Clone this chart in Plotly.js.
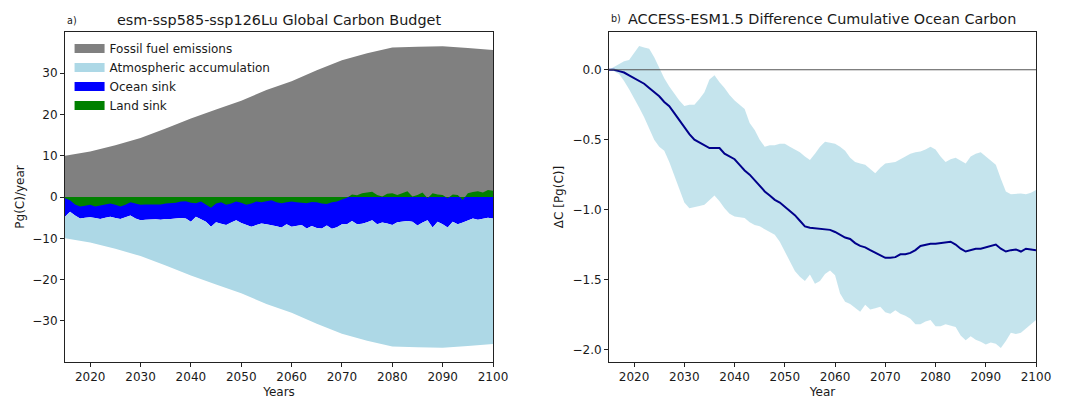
<!DOCTYPE html>
<html>
<head>
<meta charset="utf-8">
<script src="https://cdn.plot.ly/plotly-3.0.1.min.js"></script>
<style>
  html, body { margin: 0; padding: 0; background: #fff; }
  #chart { width: 1087px; height: 400px; }
</style>
</head>
<body>
<div id="chart"></div>
<script>
// ---- Panel a: global carbon budget (Pg C / year) ----
const years = [];
for (let y = 2015; y <= 2100; y++) years.push(y);

// Fossil fuel emissions, scenario values every 5 years
const fossilYears = [2015, 2020, 2025, 2030, 2035, 2040, 2045, 2050, 2055, 2060,
                     2065, 2070, 2075, 2080, 2085, 2090, 2095, 2100];
const fossil = [10.0, 11.0, 12.5, 14.3, 16.6, 19.0, 21.2, 23.3, 25.9, 28.0,
                30.7, 33.1, 34.8, 36.2, 36.4, 36.5, 36.1, 35.6];

// Net land flux (negative = uptake), 2015-2100
const landFlux = [
  -0.3, -0.8, -1.8, -2.3, -2.1, -1.9, -2.3, -2.1, -1.9, -1.6,
  -1.9, -2.3, -1.9, -1.3, -1.6, -1.9, -1.8, -1.8, -1.7, -1.8,
  -1.6, -1.5, -1.4, -1.1, -1.0, -1.4, -1.5, -1.1, -1.9, -2.6,
  -1.6, -1.3, -1.9, -1.6, -1.1, -1.4, -1.9, -1.6, -1.1, -1.3,
  -1.0, -0.8, -1.3, -1.5, -1.3, -1.1, -1.3, -1.4, -1.5, -1.2,
  -1.3, -1.6, -1.7, -1.3, -1.1, -0.6, -0.2, 0.6, 0.4, 0.9,
  1.1, 1.3, 0.5, 0.1, 0.8, 0.9, 0.5, 0.9, 1.4, 0.1,
  0.5, 1.1, -0.3, 0.9, 0.6, 0.5, -0.3, 0.6, 0.5, -0.7,
  0.9, 1.2, 1.4, 1.1, 1.7, 1.5
];

// Net ocean flux (negative = uptake), 2015-2100
const oceanFlux = [
  -4.5, -2.8, -2.7, -2.9, -2.9, -3.0, -2.8, -3.2, -3.1, -3.2,
  -3.2, -3.0, -3.0, -3.2, -3.6, -3.7, -3.7, -3.6, -3.7, -3.7,
  -3.7, -3.8, -3.8, -4.0, -4.2, -4.6, -3.3, -4.4, -4.1, -4.6,
  -4.5, -5.2, -4.9, -4.6, -4.5, -4.9, -4.8, -5.6, -5.7, -5.1,
  -5.6, -6.0, -5.8, -5.9, -5.3, -6.1, -5.7, -5.4, -6.1, -5.8,
  -6.2, -6.0, -5.2, -6.4, -6.2, -6.0, -6.4, -5.8, -6.6, -6.5,
  -6.1, -5.6, -6.6, -6.2, -6.4, -6.8, -6.1, -6.0, -5.8, -6.0,
  -6.9, -6.2, -5.3, -7.4, -6.0, -6.6, -7.1, -6.0, -6.6, -5.5,
  -5.6, -5.2, -5.5, -5.2, -5.0, -5.2
];

// ---- Panel b: ACCESS-ESM1.5 cumulative ocean carbon difference (Pg C) ----
const oceanMean = [
  0.00, 0.00, -0.01, -0.02, -0.04, -0.06, -0.08, -0.10, -0.13, -0.16,
  -0.19, -0.23, -0.26, -0.31, -0.36, -0.41, -0.46, -0.50, -0.52, -0.54,
  -0.56, -0.56, -0.56, -0.60, -0.62, -0.64, -0.68, -0.72, -0.75, -0.79,
  -0.83, -0.87, -0.90, -0.93, -0.95, -0.98, -1.01, -1.04, -1.08, -1.12,
  -1.13, -1.135, -1.14, -1.14, -1.145, -1.16, -1.18, -1.20, -1.21, -1.24,
  -1.26, -1.27, -1.29, -1.31, -1.33, -1.345, -1.345, -1.34, -1.32, -1.32,
  -1.31, -1.29, -1.26, -1.25, -1.245, -1.245, -1.24, -1.24, -1.23, -1.25,
  -1.28, -1.30, -1.29, -1.28, -1.28, -1.27, -1.26, -1.25, -1.28, -1.30,
  -1.29, -1.285, -1.30, -1.28, -1.285, -1.29
];
const oceanUpper = [
  0.00, 0.02, 0.04, 0.06, 0.07, 0.12, 0.17, 0.16, 0.15, 0.09,
  0.01, -0.06, -0.12, -0.17, -0.22, -0.26, -0.25, -0.25, -0.21, -0.16,
  -0.07, -0.04, -0.09, -0.13, -0.18, -0.22, -0.25, -0.28, -0.38, -0.43,
  -0.50, -0.55, -0.54, -0.54, -0.53, -0.53, -0.55, -0.57, -0.59, -0.62,
  -0.645, -0.60, -0.55, -0.515, -0.52, -0.53, -0.55, -0.58, -0.63, -0.66,
  -0.67, -0.68, -0.71, -0.74, -0.70, -0.67, -0.665, -0.66, -0.64, -0.62,
  -0.60, -0.59, -0.585, -0.57, -0.55, -0.57, -0.62, -0.66, -0.64, -0.63,
  -0.65, -0.67, -0.62, -0.60, -0.59, -0.62, -0.65, -0.68, -0.78, -0.87,
  -0.89, -0.885, -0.885, -0.89, -0.88, -0.86
];
const oceanLower = [
  0.00, -0.01, -0.03, -0.08, -0.14, -0.20, -0.27, -0.34, -0.42, -0.50,
  -0.55, -0.58, -0.66, -0.76, -0.86, -0.95, -0.99, -0.985, -0.975, -0.965,
  -0.93, -0.90, -0.94, -0.99, -1.03, -1.05, -1.055, -1.06, -1.09, -1.11,
  -1.12, -1.14, -1.16, -1.18, -1.23, -1.30, -1.38, -1.44, -1.48, -1.51,
  -1.465, -1.53, -1.51, -1.46, -1.435, -1.47, -1.60, -1.66, -1.675, -1.70,
  -1.73, -1.68, -1.715, -1.705, -1.695, -1.735, -1.745, -1.72, -1.745, -1.76,
  -1.78, -1.82, -1.82, -1.80, -1.79, -1.835, -1.835, -1.82, -1.83, -1.84,
  -1.90, -1.935, -1.905, -1.93, -1.945, -1.965, -1.95, -1.96, -1.99, -1.94,
  -1.88, -1.89, -1.88, -1.85, -1.82, -1.79
];

const xTicks = [2020, 2030, 2040, 2050, 2060, 2070, 2080, 2090, 2100];

// budget components and their colours, in legend order
const componentNames = ['Fossil fuel emissions', 'Atmospheric accumulation', 'Ocean sink', 'Land sink'];
const componentColors = ['rgb(128,128,128)', 'rgb(173,216,230)', 'rgb(0,0,255)', 'rgb(0,128,0)'];

// stacked boundaries for panel a
const zeroLine = years.map(() => 0);
const oceanEdge = years.map((y, i) => Math.min(landFlux[i], 0) + oceanFlux[i]);
const atmosEdge = fossil.map(v => -v);

const FONT = 'DejaVu Sans, Arial, sans-serif';
const INK = '#1a1a1a';

const areaStyle = { type: 'scatter', mode: 'lines', line: { width: 0 },
                    showlegend: false, hoverinfo: 'skip', xaxis: 'x', yaxis: 'y' };

const traces = [
  Object.assign({}, areaStyle, { x: fossilYears, y: fossil, fill: 'tozeroy', fillcolor: componentColors[0] }),
  Object.assign({}, areaStyle, { x: years, y: zeroLine }),
  Object.assign({}, areaStyle, { x: years, y: oceanEdge, fill: 'tonexty', fillcolor: componentColors[2] }),
  Object.assign({}, areaStyle, { x: fossilYears, y: atmosEdge, fill: 'tonexty', fillcolor: componentColors[1] }),
  Object.assign({}, areaStyle, { x: years, y: landFlux, fill: 'tozeroy', fillcolor: componentColors[3] }),

  { x: years, y: oceanUpper, type: 'scatter', mode: 'lines', line: { width: 0 },
    showlegend: false, xaxis: 'x2', yaxis: 'y2', hoverinfo: 'skip' },
  { x: years, y: oceanLower, type: 'scatter', mode: 'lines', fill: 'tonexty',
    fillcolor: 'rgba(173,216,230,0.7)', line: { width: 0 },
    showlegend: false, xaxis: 'x2', yaxis: 'y2', hoverinfo: 'skip' },
  { x: years, y: oceanMean, type: 'scatter', mode: 'lines',
    line: { color: 'rgb(0,0,139)', width: 2 },
    showlegend: false, xaxis: 'x2', yaxis: 'y2', hoverinfo: 'skip' }
];

// legend patches for the budget components
componentNames.forEach((name, i) => {
  traces.push({ x: [null], y: [null], type: 'scatter', mode: 'lines', name: name,
    line: { color: componentColors[i], width: 9 }, xaxis: 'x', yaxis: 'y',
    hoverinfo: 'skip', showlegend: true });
});

const axisBase = {
  showline: true, mirror: true, linecolor: '#222', linewidth: 1,
  showgrid: false, zeroline: false, ticks: 'outside', ticklen: 4,
  tickwidth: 1, tickcolor: '#222',
  tickfont: { family: FONT, size: 12, color: INK }
};

const layout = {
  width: 1087, height: 400,
  margin: { l: 0, r: 0, t: 0, b: 0 },
  paper_bgcolor: '#fff', plot_bgcolor: '#fff',
  font: { family: FONT, color: INK },
  showlegend: true,
  legend: {
    x: 0.064, y: 0.915, xanchor: 'left', yanchor: 'top',
    bgcolor: 'rgba(255,255,255,0)', borderwidth: 0, traceorder: 'normal',
    font: { family: FONT, size: 12, color: INK },
    tracegroupgap: 0, itemwidth: 30
  },
  xaxis: Object.assign({}, axisBase, {
    domain: [65 / 1087, 493 / 1087], range: [2015, 2100],
    tickvals: xTicks, anchor: 'y',
    title: { text: 'Years', font: { family: FONT, size: 12, color: INK }, standoff: 4 }
  }),
  yaxis: Object.assign({}, axisBase, {
    domain: [0.095, 0.92], range: [-39.95, 39.95],
    tickvals: [-30, -20, -10, 0, 10, 20, 30], anchor: 'x',
    title: { text: 'Pg(C)/year', font: { family: FONT, size: 12, color: INK }, standoff: 5 }
  }),
  xaxis2: Object.assign({}, axisBase, {
    domain: [609 / 1087, 1036 / 1087], range: [2015, 2100],
    tickvals: xTicks, anchor: 'y2',
    title: { text: 'Year', font: { family: FONT, size: 12, color: INK }, standoff: 4 }
  }),
  yaxis2: Object.assign({}, axisBase, {
    domain: [0.095, 0.92], range: [-2.09, 0.27],
    tickvals: [-2.0, -1.5, -1.0, -0.5, 0.0], tickformat: '.1f', anchor: 'x2',
    title: { text: 'ΔC [Pg(C)]', font: { family: FONT, size: 12, color: INK }, standoff: 6 }
  }),
  shapes: [
    { type: 'line', xref: 'x2 domain', yref: 'y2', x0: 0, x1: 1, y0: 0, y1: 0,
      line: { color: '#555', width: 1 }, layer: 'above' }
  ],
  annotations: [
    { text: 'esm-ssp585-ssp126Lu Global Carbon Budget', xref: 'paper', yref: 'paper',
      x: 279 / 1087, y: 1 - 20 / 400, xanchor: 'center', yanchor: 'middle', showarrow: false,
      font: { family: FONT, size: 14.4, color: INK } },
    { text: 'a)', xref: 'paper', yref: 'paper', x: 65 / 1087, y: 1 - 20 / 400,
      xanchor: 'left', yanchor: 'middle', showarrow: false,
      font: { family: FONT, size: 9.6, color: INK } },
    { text: 'ACCESS-ESM1.5 Difference Cumulative Ocean Carbon', xref: 'paper', yref: 'paper',
      x: 822 / 1087, y: 1 - 19 / 400, xanchor: 'center', yanchor: 'middle', showarrow: false,
      font: { family: FONT, size: 14.4, color: INK } },
    { text: 'b)', xref: 'paper', yref: 'paper', x: 609 / 1087, y: 1 - 19 / 400,
      xanchor: 'left', yanchor: 'middle', showarrow: false,
      font: { family: FONT, size: 9.6, color: INK } }
  ]
};

Plotly.newPlot('chart', traces, layout, { staticPlot: true, displayModeBar: false });
</script>
</body>
</html>
